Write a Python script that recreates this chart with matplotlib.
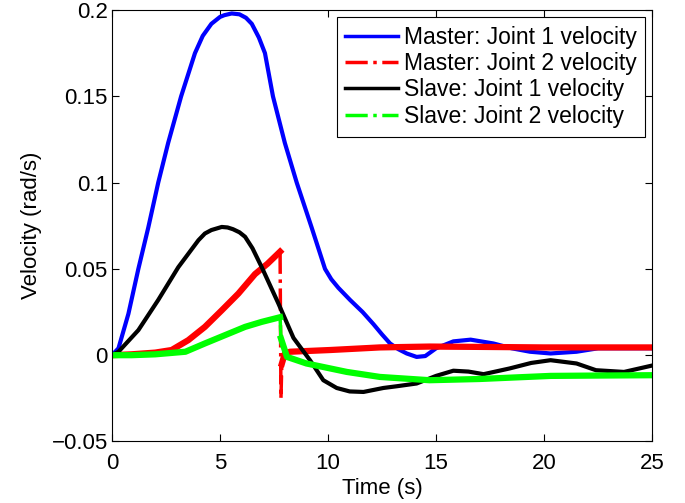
import matplotlib as mpl
import matplotlib.pyplot as plt
from matplotlib.lines import Line2D

# values
blue_t = [0, 0.3, 0.76, 1.22, 1.68, 2.14, 2.6, 3.2, 3.84, 4.2, 4.6, 5.0, 5.2,
          5.54, 5.9, 6.2, 6.47, 6.8, 7.08, 7.45, 8.0, 8.55, 9.24, 9.86,
          10.15, 10.48, 11.02, 11.6, 12.1, 12.5, 12.87, 13.25, 13.64, 14.1,
          14.5, 15.0, 15.8, 16.6, 17.65, 18.5, 19.35, 20.3, 21.5, 22.5,
          23.5, 25]
blue_v = [0, 0.004, 0.024, 0.05, 0.074, 0.1, 0.123, 0.15, 0.175, 0.185,
          0.192, 0.196, 0.197, 0.198, 0.1975, 0.1955, 0.192, 0.184, 0.175,
          0.15, 0.123, 0.1, 0.074, 0.05, 0.044, 0.039, 0.032, 0.025, 0.018,
          0.012, 0.0068, 0.0035, 0.001, -0.001, -0.0005, 0.004, 0.008,
          0.009, 0.0068, 0.004, 0.002, 0.001, 0.002, 0.004, 0.004, 0.004]

red_t = [0, 0.9, 2.0, 2.76, 3.53, 4.3, 5.08, 5.85, 6.62, 7.2, 7.78, 7.82,
         7.86, 8.0, 8.24, 10.1, 12.4, 14.7, 17, 20, 22.5, 25]
red_v = [0, 0.0005, 0.0015, 0.003, 0.0087, 0.0164, 0.026, 0.0357, 0.047,
         0.053, 0.060, -0.025, -0.005, 0.001, 0.002, 0.003, 0.0045, 0.005,
         0.0048, 0.0045, 0.0045, 0.0045]

black_t = [0, 0.3, 1.22, 2.14, 3.07, 4.0, 4.3, 4.6, 5.08, 5.35, 5.6, 5.9,
           6.16, 6.5, 6.93, 7.7, 8.4, 9.17, 9.78, 10.4, 11.0, 11.64, 12.56,
           13.18, 14.1, 15.0, 15.8, 16.5, 17.2, 18.4, 19.4, 20.3, 21.5,
           22.4, 23.7, 25]
black_v = [0, 0.002, 0.0145, 0.032, 0.051, 0.0666, 0.0705, 0.0725, 0.0743,
           0.074, 0.073, 0.0712, 0.0686, 0.062, 0.051, 0.030, 0.010, -0.003,
           -0.0145, -0.019, -0.021, -0.0213, -0.019, -0.018, -0.0164,
           -0.012, -0.009, -0.0095, -0.011, -0.0077, -0.0045, -0.0029,
           -0.0048, -0.0087, -0.0097, -0.006]

green_t = [0, 0.9, 2.0, 3.4, 4.3, 5.23, 6.16, 6.93, 7.78, 7.82, 8.1, 9.0,
           10.87, 12.4, 14.7, 17, 20.3, 22.5, 25]
green_v = [0, 0, 0.0005, 0.002, 0.0068, 0.0116, 0.0164, 0.0193, 0.022,
           0.0097, -0.001, -0.0048, -0.0097, -0.0126, -0.0145, -0.0138,
           -0.012, -0.0118, -0.0116]

labels = ['Master: Joint 1 velocity', 'Master: Joint 2 velocity',
          'Slave: Joint 1 velocity', 'Slave: Joint 2 velocity']

mpl.rc('font', family=['Liberation Sans', 'DejaVu Sans'], size=16)
mpl.rc('xtick', direction='in', top=True)
mpl.rc('ytick', direction='in', right=True)

fig = plt.figure(figsize=(6.85, 5.03), dpi=100)
ax = fig.add_axes([0.1635, 0.1223, 0.7885, 0.8578])

ax.plot(blue_t, blue_v, color='b', lw=3)
# noisy dash-dot traces look solid, except the fast drop at ~7.8 s
ax.plot(red_t[:11], red_v[:11], color='r', lw=4.5)
ax.plot(red_t[10:13], red_v[10:13], color='r', lw=2.5, ls='-.')
ax.plot(red_t[12:], red_v[12:], color='r', lw=4.5)
ax.plot(black_t, black_v, color='k', lw=3)
ax.plot(green_t[:9], green_v[:9], color='#00ff00', lw=4.5)
ax.plot(green_t[8:10], green_v[8:10], color='#00ff00', lw=2.5, ls='-.')
ax.plot(green_t[9:], green_v[9:], color='#00ff00', lw=4.5)

ax.set_xlim(0, 25)
ax.set_ylim(-0.05, 0.2)
ax.set_xticks([0, 5, 10, 15, 20, 25])
ax.set_yticks([-0.05, 0, 0.05, 0.1, 0.15, 0.2])
ax.set_yticklabels(['\u22120.05', '0', '0.05', '0.1', '0.15', '0.2'])
ax.tick_params(length=5, width=0.8, pad=3)
ax.tick_params(axis='x', pad=8)
ax.set_xlabel('Time (s)', labelpad=3)
ax.set_ylabel('Velocity (rad/s)', labelpad=7)

handles = [Line2D([], [], color='b', lw=2.5),
           Line2D([], [], color='r', lw=2.5, ls='-.'),
           Line2D([], [], color='k', lw=2.5),
           Line2D([], [], color='#00ff00', lw=2.5, ls='-.')]
leg = ax.legend(handles, labels, loc='upper right', fancybox=False,
                edgecolor='k', framealpha=1, fontsize=16.5, handlelength=2.3,
                handletextpad=0.25, labelspacing=0.15, borderpad=0.38,
                borderaxespad=0.3)
leg.get_frame().set_linewidth(0.8)

plt.savefig('out.png', dpi=100)
